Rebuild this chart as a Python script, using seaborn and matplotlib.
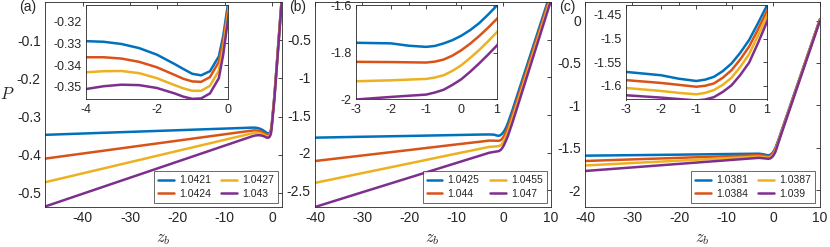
import numpy as np
import pandas as pd
import seaborn as sns
import matplotlib
matplotlib.use('Agg')
import matplotlib.pyplot as plt
from matplotlib.ticker import FuncFormatter

sns.set_style('white')
plt.rcParams['font.family'] = ['Liberation Sans', 'DejaVu Sans']
plt.rcParams['mathtext.fontset'] = 'cm'
plt.rcParams['axes.unicode_minus'] = False

# MATLAB default colour order
colors = ['#0072BD', '#D95319', '#EDB120', '#7E2F8E']

# ---- panel (a) ----
labels_a = ['1.0421', '1.0424', '1.0427', '1.043']
z_a = [-48, -40, -30, -20, -10, -6, -4, -3.5, -3, -2.5, -2, -1.5, -1.25, -1,
       -0.75, -0.5, -0.25, -0.125, 0, 0.5, 1, 1.5, 2, 2.5]
P_a1 = [-0.348, -0.3445, -0.3402, -0.3359, -0.3316, -0.3299, -0.3290, -0.3293,
        -0.3303, -0.3322, -0.3352, -0.3395, -0.3418, -0.3440, -0.3447, -0.3428,
        -0.3360, -0.3265, -0.3127, -0.245, -0.163, -0.080, 0.003, 0.085]
P_a2 = [-0.4103, -0.3969, -0.3801, -0.3633, -0.3465, -0.3398, -0.3364, -0.3364,
        -0.3370, -0.3385, -0.3410, -0.3445, -0.3463, -0.3475, -0.3477, -0.3455,
        -0.3385, -0.3290, -0.3151, -0.248, -0.166, -0.083, 0.000, 0.082]
P_a3 = [-0.4722, -0.4488, -0.4195, -0.3902, -0.3609, -0.3492, -0.3433, -0.3428,
        -0.3427, -0.3437, -0.3460, -0.3492, -0.3507, -0.3518, -0.3518, -0.3495,
        -0.3425, -0.3320, -0.3174, -0.251, -0.169, -0.086, -0.003, 0.079]
P_a4 = [-0.5358, -0.5022, -0.4602, -0.4182, -0.3762, -0.3594, -0.3510, -0.3497,
        -0.3490, -0.3492, -0.3505, -0.3530, -0.3545, -0.3555, -0.3553, -0.3530,
        -0.3460, -0.3350, -0.3200, -0.254, -0.172, -0.089, -0.006, 0.076]

# ---- panel (b) ----
labels_b = ['1.0425', '1.044', '1.0455', '1.047']
z_b = [-40, -30, -20, -10, -5, -3, -2, -1.5, -1, -0.75, -0.5, -0.25, 0, 0.25,
       0.5, 0.75, 1, 2, 10]
P_b1 = [-1.800, -1.788, -1.777, -1.765, -1.759, -1.7575, -1.760, -1.770, -1.775,
        -1.771, -1.760, -1.746, -1.727, -1.703, -1.674, -1.638, -1.599, -1.42, 0.12]
P_b2 = [-2.110, -2.037, -1.964, -1.890, -1.854, -1.839, -1.840, -1.841, -1.842,
        -1.838, -1.829, -1.812, -1.789, -1.761, -1.729, -1.694, -1.656, -1.475, 0.08]
P_b3 = [-2.400, -2.271, -2.142, -2.012, -1.948, -1.922, -1.918, -1.915, -1.912,
        -1.906, -1.896, -1.877, -1.853, -1.822, -1.789, -1.752, -1.713, -1.53, 0.04]
P_b4 = [-2.720, -2.525, -2.331, -2.136, -2.039, -2.000, -1.989, -1.984, -1.979,
        -1.970, -1.958, -1.937, -1.913, -1.881, -1.846, -1.809, -1.770, -1.585, 0.0]

# ---- panel (c) ----
labels_c = ['1.0381', '1.0384', '1.0387', '1.039']
z_c = [-40, -30, -20, -10, -5, -3, -2, -1.5, -1, -0.75, -0.5, -0.25, 0, 0.25,
       0.5, 0.75, 1, 2, 10]
P_c1 = [-1.594, -1.588, -1.582, -1.575, -1.572, -1.5706, -1.5777, -1.585, -1.5898,
        -1.587, -1.581, -1.569, -1.5528, -1.530, -1.503, -1.468, -1.431, -1.27, 0.02]
P_c2 = [-1.657, -1.638, -1.620, -1.601, -1.592, -1.588, -1.594, -1.598, -1.602,
        -1.600, -1.595, -1.583, -1.567, -1.544, -1.517, -1.481, -1.443, -1.28, 0.015]
P_c3 = [-1.710, -1.681, -1.653, -1.624, -1.610, -1.6046, -1.611, -1.615, -1.618,
        -1.615, -1.609, -1.598, -1.583, -1.560, -1.533, -1.494, -1.4535, -1.29, 0.01]
P_c4 = [-1.775, -1.733, -1.691, -1.649, -1.628, -1.620, -1.625, -1.628, -1.631,
        -1.629, -1.624, -1.613, -1.599, -1.577, -1.551, -1.510, -1.466, -1.30, 0.0]

panels = [
    dict(z=z_a, P=[P_a1, P_a2, P_a3, P_a4], labels=labels_a, tag='(a)',
         xlim=(-48, 2), ylim=(-0.537, 0.0), xt=[-40, -30, -20, -10, 0],
         yt=[-0.5, -0.4, -0.3, -0.2, -0.1],
         ixlim=(-4, 0), iylim=(-0.3558, -0.3124), ixt=[-4, -2, 0],
         iyt=[-0.35, -0.34, -0.33, -0.32]),
    dict(z=z_b, P=[P_b1, P_b2, P_b3, P_b4], labels=labels_b, tag='(b)',
         xlim=(-40, 10), ylim=(-2.72, 0.0), xt=[-40, -30, -20, -10, 0, 10],
         yt=[-2.5, -2, -1.5, -1, -0.5],
         ixlim=(-3, 1), iylim=(-2.0, -1.596), ixt=[-3, -2, -1, 0, 1],
         iyt=[-2, -1.8, -1.6]),
    dict(z=z_c, P=[P_c1, P_c2, P_c3, P_c4], labels=labels_c, tag='(c)',
         xlim=(-40, 10), ylim=(-2.2, 0.22), xt=[-40, -30, -20, -10, 0, 10],
         yt=[-2, -1.5, -1, -0.5, 0],
         ixlim=(-3, 1), iylim=(-1.629, -1.429), ixt=[-3, -2, -1, 0, 1],
         iyt=[-1.6, -1.55, -1.5, -1.45]),
]

W, H = 830, 247
fig = plt.figure(figsize=(W / 100, H / 100), dpi=100)

main_px = [(45, 281.5), (315, 550.5), (585, 820)]   # left/right in pixels
inset_px = [(86, 227.7), (355.7, 496.7), (626, 766.7)]
leg_right = [278, 546.7, 815]
tag_x = [28, 298, 567]
fmt = FuncFormatter(lambda v, _: f'{v:g}')


def style(ax, fs):
    ax.tick_params(direction='in', length=3, width=0.6, top=True, right=True,
                   labelsize=fs, colors='#262626', pad=3)
    for s in ax.spines.values():
        s.set_color('#262626')
        s.set_linewidth(0.6)
    ax.xaxis.set_major_formatter(fmt)
    ax.yaxis.set_major_formatter(fmt)


for i, p in enumerate(panels):
    l, r = main_px[i]
    ax = fig.add_axes([l / W, (H - 207) / H, (r - l) / W, 205 / H])
    for y, c, lab in zip(p['P'], colors, p['labels']):
        sns.lineplot(x=p['z'], y=y, ax=ax, color=c, lw=1.8, label=lab, sort=False)
    ax.set_xlim(*p['xlim'])
    ax.set_ylim(*p['ylim'])
    ax.set_xticks(p['xt'])
    ax.set_yticks(p['yt'])
    ax.set_xlabel('')
    ax.set_ylabel('')
    style(ax, 10)
    ax.legend(ncol=2, loc='lower right', bbox_to_anchor=(leg_right[i] / W, 1 - 202.7 / H),
              bbox_transform=fig.transFigure, borderaxespad=0, fontsize=7.5,
              frameon=True, fancybox=False, edgecolor='#262626', handlelength=1.5,
              columnspacing=1.0, handletextpad=0.5, labelspacing=0.3,
              borderpad=0.4).get_frame().set_linewidth(0.6)

    il, ir = inset_px[i]
    ins = fig.add_axes([il / W, (H - 99.5) / H, (ir - il) / W, 94.5 / H])
    for y, c in zip(p['P'], colors):
        sns.lineplot(x=p['z'], y=y, ax=ins, color=c, lw=1.8, sort=False, legend=False)
    ins.set_xlim(*p['ixlim'])
    ins.set_ylim(*p['iylim'])
    ins.set_xticks(p['ixt'])
    ins.set_yticks(p['iyt'])
    ins.set_xlabel('')
    ins.set_ylabel('')
    style(ins, 9)

    fig.text(tag_x[i] / W, 1 - 7 / H, p['tag'], fontsize=10, ha='center', va='center')
    fig.text((l + r) / 2 / W, 1 - 239 / H, r'$z_b$', fontsize=12, ha='center', va='center')

fig.text(7 / W, 1 - 94 / H, r'$P$', fontsize=12, ha='center', va='center')

fig.savefig('out.png', dpi=100)
